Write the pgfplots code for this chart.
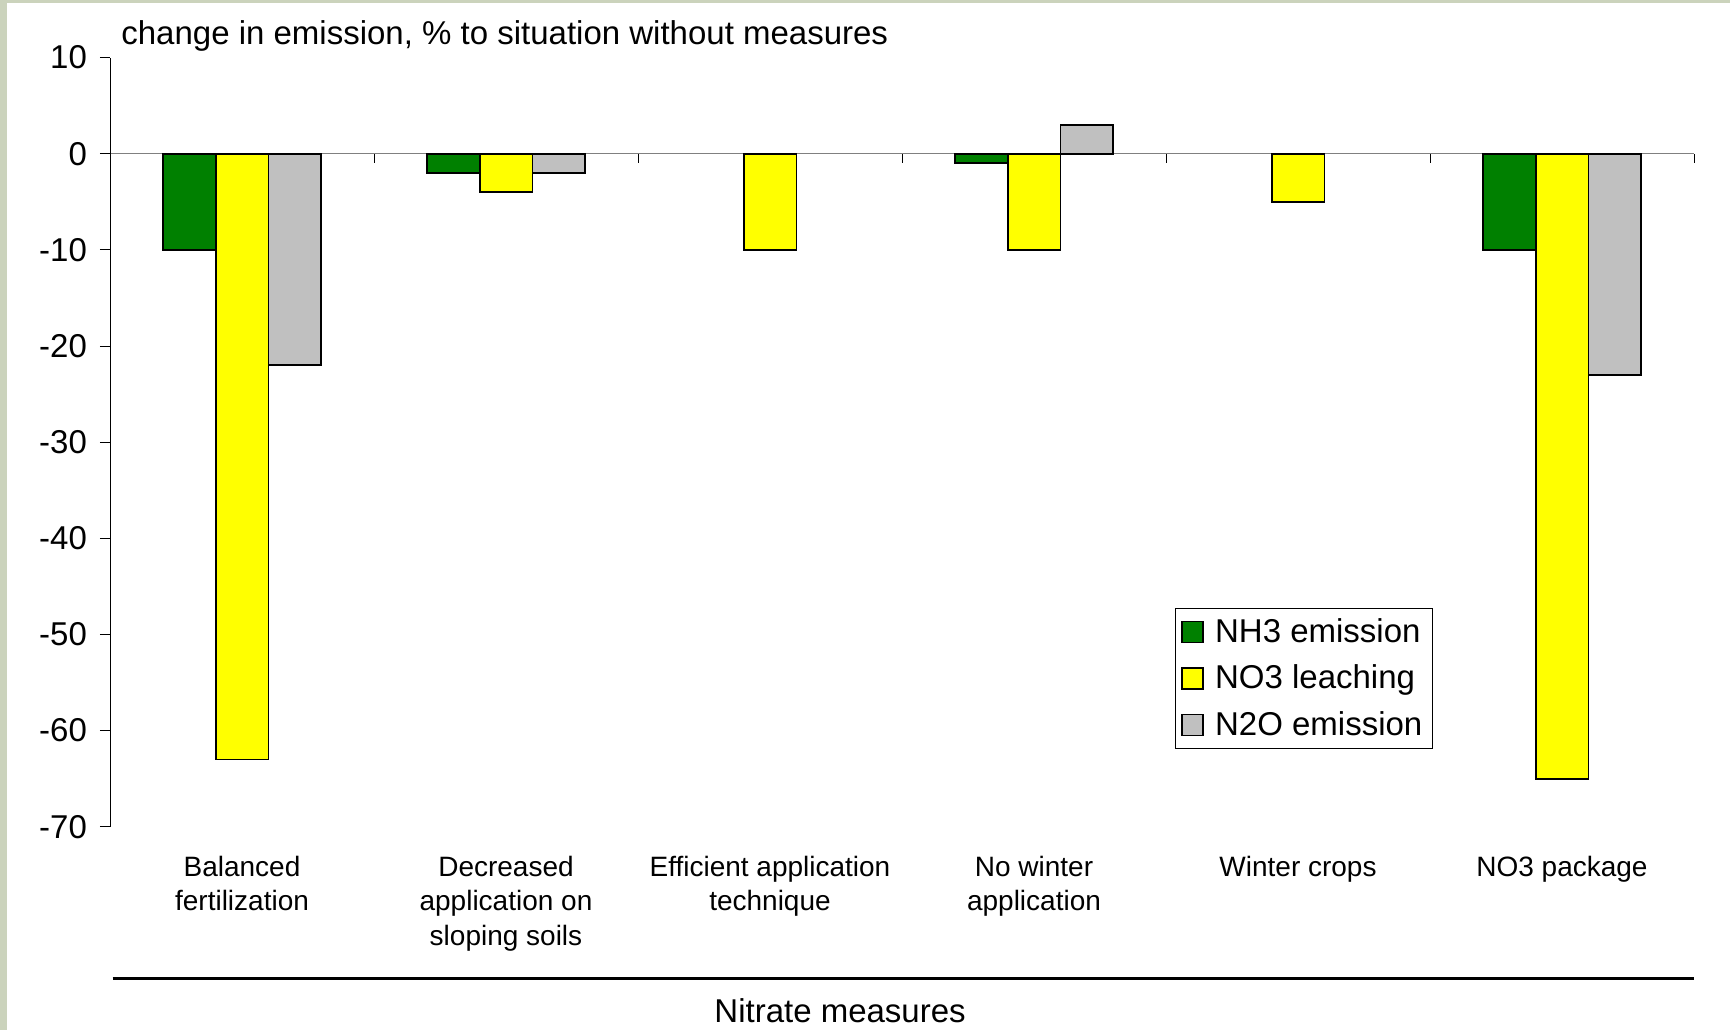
\documentclass[border=0pt]{standalone}
\usepackage{pgfplots}
\pgfplotsset{compat=1.18}
\usepackage{fontspec}
\setmainfont{Liberation Sans}
\definecolor{barGreen}{RGB}{0,128,0}
\definecolor{barYellow}{RGB}{255,255,0}
\definecolor{barGrey}{RGB}{192,192,192}
\definecolor{zeroGrey}{RGB}{128,128,128}
\definecolor{frameOlive}{RGB}{203,211,188}

\begin{document}
\begin{tikzpicture}[x=0.5pt,y=0.5pt]
% page 1730 x 1030 px
\fill[white] (0,0) rectangle (1730,1030);
\fill[frameOlive] (0,0) rectangle (7,1030);
\fill[frameOlive] (0,1027) rectangle (1730,1030);

% zero line with category separators
\begin{axis}[
  at={(55pt,101.65pt)}, anchor=south west, scale only axis,
  width=792pt, height=384.55pt,
  xmin=-0.5, xmax=5.5, ymin=-70, ymax=10,
  axis x line=middle, axis y line=none,
  x axis line style={draw=zeroGrey, line width=0.7pt, -},
  xtick={-0.5,0.5,1.5,2.5,3.5,4.5,5.5}, xticklabels={},
  ytick=\empty,
  xtick style={draw=black, line width=0.5pt},
  xtick align=outside, major tick length=4.5pt,
]
\end{axis}

\begin{axis}[
  at={(55pt,101.65pt)}, anchor=south west, scale only axis,
  width=792pt, height=384.55pt,
  xmin=-0.5, xmax=5.5, ymin=-70, ymax=10,
  axis x line*=bottom, axis y line*=left,
  x axis line style={draw=none},
  y axis line style={draw=black, line width=0.5pt, -},
  xtick={0,1,2,3,4,5},
  xticklabels={{Balanced\\fertilization},{Decreased\\application on\\sloping soils},{Efficient application\\technique},{No winter\\application},{Winter crops},{NO3 package}},
  xticklabel style={align=center, font=\fontsize{14}{17.4}\selectfont, anchor=north, yshift=-6pt},
  xtick style={draw=none},
  ytick={-70,-60,-50,-40,-30,-20,-10,0,10},
  yticklabels={-70,-60,-50,-40,-30,-20,-10,0,10},
  yticklabel style={font=\fontsize{16.5}{19.8}\selectfont, xshift=-3pt},
  ytick style={draw=black, line width=0.5pt},
  ytick align=outside, major tick length=5pt,
  ybar, bar width=0.2,
  legend image code/.code={\draw[#1, draw=black, line width=0.8pt] (1.5pt,-5.25pt) rectangle (12pt,5.25pt); \path (15.5pt,0pt);},
  legend style={at={(0.6723,0.2844)}, anchor=north west, draw=black, line width=0.5pt,
    font=\fontsize{16.5}{19.8}\selectfont, inner xsep=3pt, inner ysep=3pt, row sep=5.8pt},
  legend cell align=left,
  xlabel={Nitrate measures},
  xlabel style={at={(axis description cs:0.4609,-0.254)}, anchor=base, font=\fontsize{16.5}{19.8}\selectfont},
]
\addplot[fill=barGreen, draw=black, line width=0.9pt, bar shift=-0.2]
  coordinates {(0,-10) (1,-2) (3,-1) (5,-10)};
\addplot[fill=barYellow, draw=black, line width=0.9pt, bar shift=0]
  coordinates {(0,-63) (1,-4) (2,-10) (3,-10) (4,-5) (5,-65)};
\addplot[fill=barGrey, draw=black, line width=0.9pt, bar shift=0.2]
  coordinates {(0,-22) (1,-2) (3,3) (5,-23)};
\legend{NH3 emission, NO3 leaching, N2O emission}
\end{axis}

\node[anchor=base west, font=\fontsize{16.5}{19.8}\selectfont, inner sep=0pt] at (121,985)
  {change in emission, \% to situation without measures};
\draw[line width=1.2pt] (112.5,51.4) -- (1694,51.4);
\end{tikzpicture}
\end{document}
